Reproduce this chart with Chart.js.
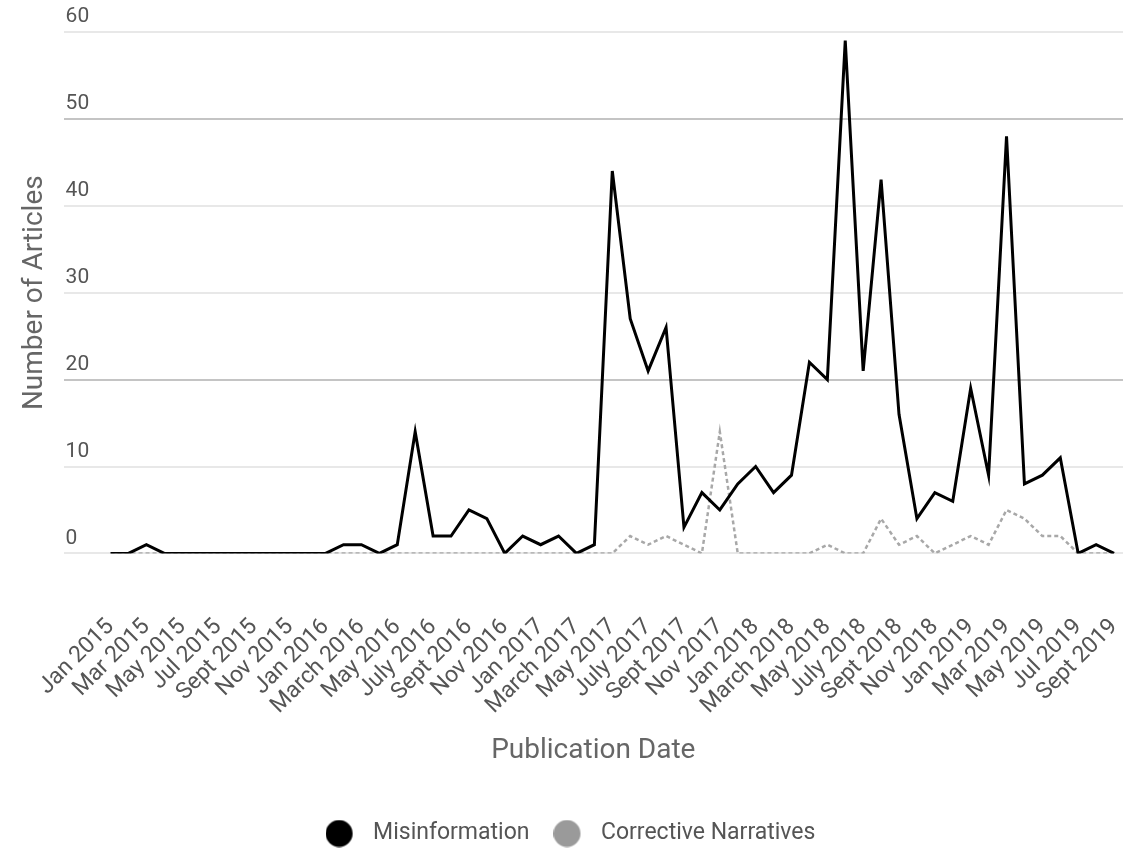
<!DOCTYPE html>
<html>
<head>
<meta charset="utf-8">
<script src="https://cdn.jsdelivr.net/npm/chart.js@4.4.1/dist/chart.umd.min.js"></script>
<style>
    html, body { margin: 0; padding: 0; background: #fff; }
    #wrap { width: 1132px; height: 851px; }
</style>
</head>
<body>
<div id="wrap"><canvas id="articlesCanvas"></canvas></div>
<script>
let monthLabels = ['Jan 2015', 'Feb 2015', 'Mar 2015', 'Apr 2015', 'May 2015', 'Jun 2015', 'Jul 2015', 'Aug 2015', 'Sept 2015', 'Oct 2015', 'Nov 2015', 'Dec 2015',
    'Jan 2016', 'Feb 2016', 'March 2016', 'Apr 2016', 'May 2016', 'June 2016', 'July 2016', 'Aug 2016', 'Sept 2016', 'Oct 2016', 'Nov 2016', 'Dec 2016',
    'Jan 2017', 'Feb 2017', 'March 2017', 'Apr 2017', 'May 2017', 'June 2017', 'July 2017', 'Aug 2017', 'Sept 2017', 'Oct 2017', 'Nov 2017', 'Dec 2017',
    'Jan 2018', 'Feb 2018', 'March 2018', 'Apr 2018', 'May 2018', 'June 2018', 'July 2018', 'Aug 2018', 'Sept 2018', 'Oct 2018', 'Nov 2018', 'Dec 2018',
    'Jan 2019', 'Feb 2019', 'Mar 2019', 'Apr 2019', 'May 2019', 'Jun 2019', 'Jul 2019', 'Aug 2019', 'Sept 2019'];

let misinformation = [0, 0, 1, 0, 0, 0, 0, 0, 0, 0, 0, 0,
    0, 1, 1, 0, 1, 14, 2, 2, 5, 4, 0, 2,
    1, 2, 0, 1, 44, 27, 21, 26, 3, 7, 5, 8,
    10, 7, 9, 22, 20, 59, 21, 43, 16, 4, 7, 6,
    19, 9, 48, 8, 9, 11, 0, 1, 0];

let corrective = [0, 0, 0, 0, 0, 0, 0, 0, 0, 0, 0, 0,
    0, 0, 0, 0, 0, 0, 0, 0, 0, 0, 0, 0,
    0, 0, 0, 0, 0, 2, 1, 2, 1, 0, 14, 0,
    0, 0, 0, 0, 1, 0, 0, 4, 1, 2, 0, 1,
    2, 1, 5, 4, 2, 2, 0, 0, 0];

let yTicks = [0, 10, 20, 30, 40, 50, 60];

let toPoints = function(values) {
    return values.map(function(v, i) { return {x: i, y: v}; });
};

// legend dot: a round swatch with blank room on its right, used as pointStyle
let legendDot = function(color) {
    let c = document.createElement('canvas');
    c.width = 36;
    c.height = 28;
    let g = c.getContext('2d');
    g.fillStyle = color;
    g.beginPath();
    g.arc(13.5, 14, 13.5, 0, Math.PI * 2);
    g.fill();
    return c;
};

let ctx = document.getElementById('articlesCanvas').getContext('2d');

let chart = new Chart(ctx, {
    type: 'line',
    data: {
        datasets: [{
            label: 'Misinformation',
            data: toPoints(misinformation),
            borderColor: '#000',
            backgroundColor: '#000',
            borderWidth: 3,
            pointRadius: 0,
            pointStyle: legendDot('#000'),
            tension: 0
        }, {
            label: 'Corrective Narratives',
            data: toPoints(corrective),
            borderColor: '#a8a8a8',
            backgroundColor: '#999',
            borderWidth: 2.5,
            borderDash: [4, 3],
            pointRadius: 0,
            pointStyle: legendDot('#9a9a9a'),
            tension: 0
        }]
    },
    options: {
        responsive: true,
        maintainAspectRatio: false,
        animation: false,
        layout: {
            padding: {left: 18, right: 9, top: 32, bottom: -4}
        },
        scales: {
            x: {
                type: 'linear',
                min: -2.62,
                max: 56.5,
                grid: {display: false},
                border: {display: false},
                afterBuildTicks: function(axis) {
                    axis.ticks = monthLabels.map(function(l, i) { return {value: i}; })
                        .filter(function(t) { return t.value % 2 === 0; });
                },
                afterFit: function(axis) {
                    axis.paddingRight = 0;
                    axis.paddingLeft = 0;
                },
                ticks: {
                    autoSkip: false,
                    minRotation: 45,
                    maxRotation: 45,
                    padding: 52,
                    color: '#555',
                    font: {family: 'Roboto', size: 23},
                    callback: function(value) { return monthLabels[value]; }
                },
                title: {
                    display: true,
                    text: 'Publication Date',
                    color: '#666',
                    font: {family: 'Roboto', size: 28},
                    padding: {top: -37, bottom: 30}
                }
            },
            y: {
                min: 0,
                max: 60,
                afterBuildTicks: function(axis) {
                    axis.ticks = yTicks.map(function(v) { return {value: v}; });
                },
                border: {display: false},
                grid: {
                    lineWidth: 2,
                    drawTicks: false,
                    color: function(c) {
                        return (c.tick && (c.tick.value === 20 || c.tick.value === 50)) ? '#c4c4c4' : '#e8e8e8';
                    }
                },
                ticks: {
                    mirror: true,
                    labelOffset: -15,
                    padding: 2,
                    color: '#555',
                    font: {family: 'Roboto', size: 21}
                },
                title: {
                    display: true,
                    text: 'Number of Articles',
                    color: '#666',
                    font: {family: 'Roboto', size: 28},
                    padding: {top: 0, bottom: 8}
                }
            }
        },
        plugins: {
            legend: {
                position: 'bottom',
                labels: {
                    usePointStyle: true,
                    pointStyleWidth: 36,
                    boxHeight: 23,
                    padding: 24,
                    color: '#555',
                    font: {family: 'Roboto', size: 23},
                    generateLabels: function(c) {
                        return Chart.defaults.plugins.legend.labels.generateLabels(c).map(function(item) {
                            item.lineDash = [];
                            item.lineWidth = 0;
                            return item;
                        });
                    }
                }
            },
            tooltip: {enabled: false}
        }
    }
});
</script>
</body>
</html>
